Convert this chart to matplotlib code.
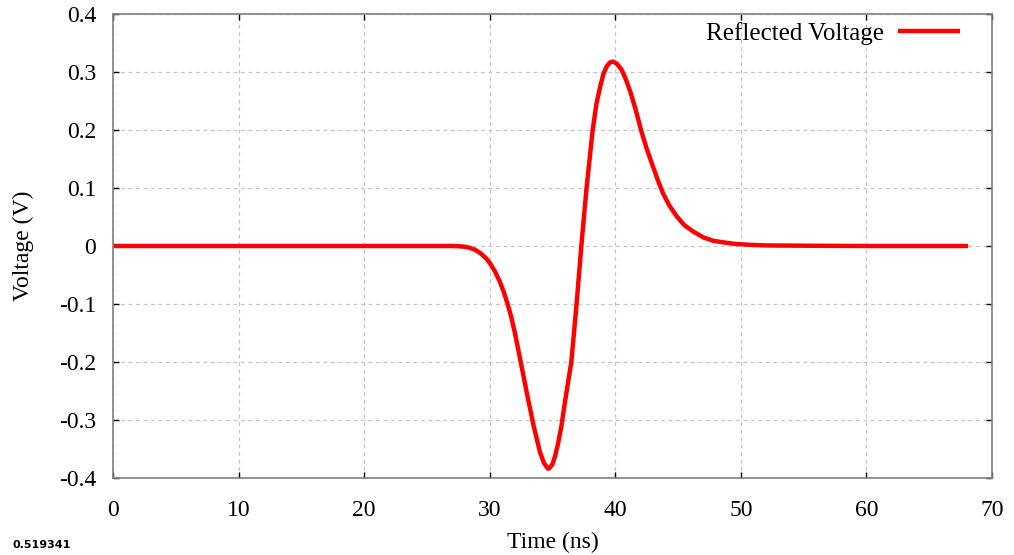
import matplotlib
matplotlib.use("Agg")
import matplotlib.pyplot as plt

time_ns = [0, 10, 20, 27.0, 27.5, 27.9, 28.3, 28.8, 29.3, 29.7, 30.0, 30.4, 30.8, 31.1, 31.4, 31.7,
           32.0, 32.5, 33.0, 33.5, 34.0, 34.3, 34.5, 34.65, 34.8, 35.0, 35.2, 35.45, 35.7, 36.0,
           36.5, 36.9, 37.3, 37.7, 38.2, 38.5, 38.8, 39.05, 39.3, 39.55, 39.8, 40.1, 40.5, 40.85,
           41.2, 41.6, 42.05, 42.5, 43.0, 43.4, 43.8, 44.3, 44.9, 45.5, 46.2, 47.0, 47.8, 48.7,
           49.6, 50.8, 52.0, 55.0, 60.0, 68.1]
voltage = [0, 0, 0, 0, -0.0003, -0.001, -0.0025, -0.006, -0.013, -0.021, -0.029, -0.043, -0.061,
           -0.078, -0.098, -0.121, -0.149, -0.203, -0.258, -0.310, -0.355, -0.373, -0.380, -0.384,
           -0.382, -0.376, -0.363, -0.340, -0.312, -0.268, -0.200, -0.105, 0.0, 0.097, 0.200,
           0.245, 0.275, 0.296, 0.309, 0.316, 0.318, 0.315, 0.304, 0.287, 0.266, 0.237, 0.200,
           0.168, 0.137, 0.113, 0.091, 0.070, 0.051, 0.036, 0.025, 0.015, 0.009, 0.006, 0.0035,
           0.002, 0.001, 0.0005, 0.0, 0.0]

x_ticks = [0, 10, 20, 30, 40, 50, 60, 70]
y_ticks = [-0.4, -0.3, -0.2, -0.1, 0, 0.1, 0.2, 0.3, 0.4]
y_tick_labels = ["-0.4", "-0.3", "-0.2", "-0.1", "0", "0.1", "0.2", "0.3", "0.4"]

plt.rcParams['font.family'] = ['Liberation Serif', 'DejaVu Serif']

fig = plt.figure(figsize=(10.14, 5.55), dpi=100)
ax = fig.add_axes([0.1114, 0.1387, 0.8669, 0.8361])

ax.plot(time_ns, voltage, color='#ff0000', lw=3.2, label='Reflected Voltage',
        solid_joinstyle='round', solid_capstyle='butt')

ax.set_xlim(0, 70)
ax.set_ylim(-0.4, 0.4)
ax.set_xticks(x_ticks)
ax.set_yticks(y_ticks)
ax.set_yticklabels(y_tick_labels)
ax.grid(True, color='#c4c4c4', linestyle=(0, (3, 3)), linewidth=0.9)
ax.tick_params(direction='in', top=True, right=True, labelsize=17, length=4,
               color='black', width=1)
ax.tick_params(axis='x', pad=16)
ax.tick_params(axis='y', pad=12)
for s in ax.spines.values():
    s.set_color('#808080')
    s.set_linewidth(1.2)

ax.set_xlabel('Time (ns)', fontsize=17, labelpad=8)
ax.set_ylabel('Voltage (V)', fontsize=17, labelpad=18)

leg = ax.legend(loc='upper right', bbox_to_anchor=(0.975, 1.005), frameon=False,
                markerfirst=False, fontsize=18, handlelength=2.5, borderaxespad=0,
                handletextpad=0.56)

fig.text(0.012, 0.012, '0.519341', fontsize=8, fontweight='bold', family='DejaVu Sans')

fig.savefig('out.png', dpi=100)
